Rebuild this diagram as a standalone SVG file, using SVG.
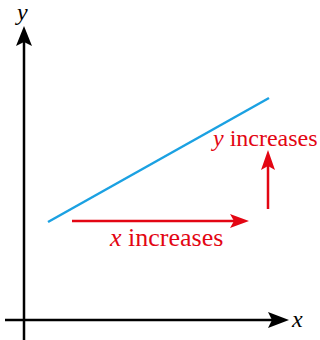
<svg xmlns="http://www.w3.org/2000/svg" width="320" height="340" viewBox="0 0 320 340">
<style>
.ax{stroke:#000;stroke-width:2.5;fill:none}
.red{stroke:#e30613;stroke-width:2.5;fill:none}
.lbl{font-family:"Liberation Serif","Times New Roman",serif;font-size:24px}
.it{font-style:italic}
</style>
<rect width="320" height="340" fill="#fff"/>
<g id="connectors">
<line class="ax" x1="24" y1="340" x2="24" y2="40"/>
<polygon points="24,26 16,46 24,42 32,46" fill="#000"/>
<line class="ax" x1="5" y1="320" x2="272" y2="320"/>
<polygon points="289,320 268,312 272,320 268,328" fill="#000"/>
<line x1="48" y1="222" x2="269" y2="98" stroke="#1ba1e2" stroke-width="2.5"/>
<line class="red" x1="72" y1="221" x2="234" y2="221"/>
<polygon points="249,221 230,214 234,221 230,228" fill="#e30613"/>
<line class="red" x1="268" y1="209" x2="268" y2="166"/>
<polygon points="268,150 261,170 268,166 275,170" fill="#e30613"/>
</g>
<g id="labels">
<text class="lbl it" x="17" y="20">y</text>
<text class="lbl it" x="292" y="327">x</text>
<text class="lbl" x="110" y="246" fill="#e30613" style="font-size:26px"><tspan class="it">x</tspan> increases</text>
<text class="lbl" x="213" y="146" fill="#e30613" style="font-size:24px"><tspan class="it">y</tspan> increases</text>
</g>
</svg>
